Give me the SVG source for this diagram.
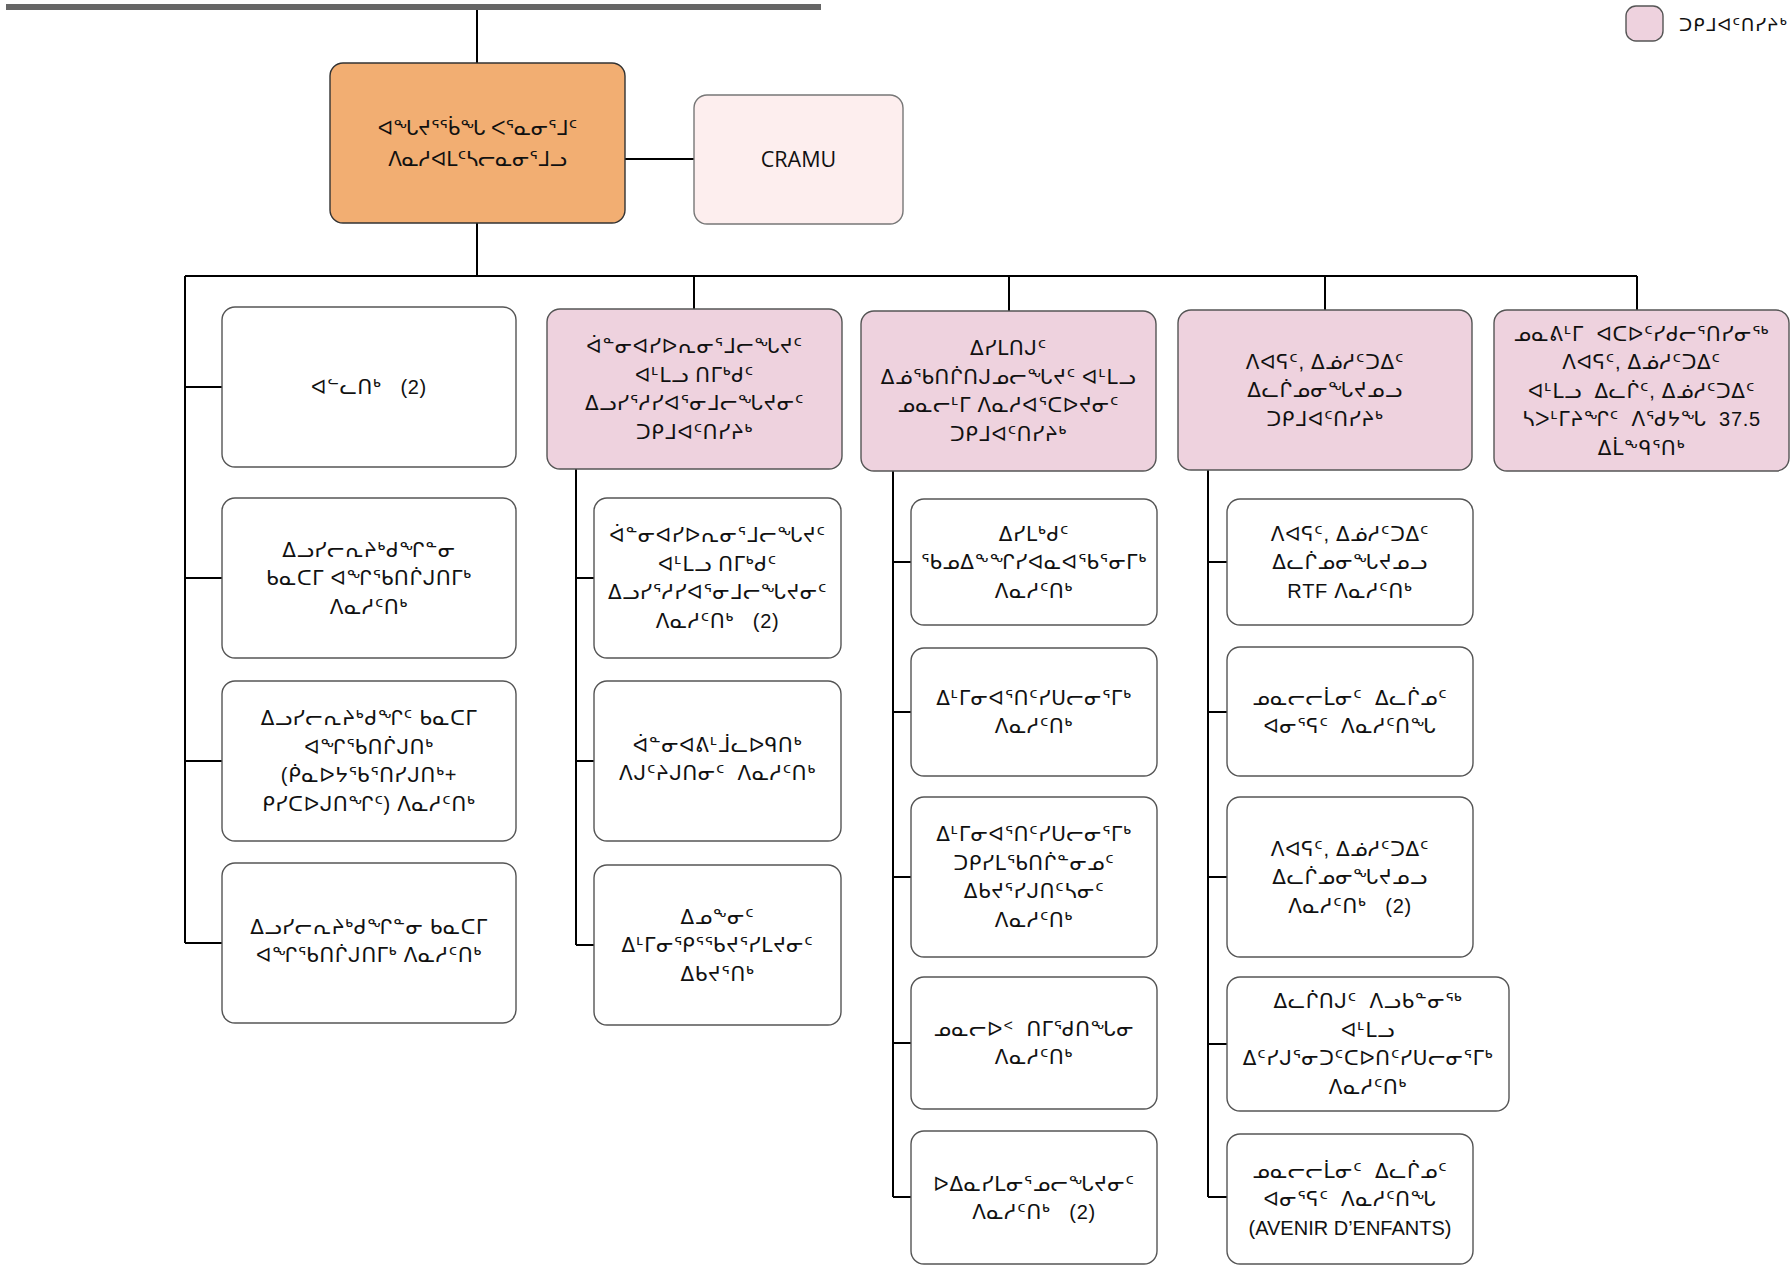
<svg xmlns="http://www.w3.org/2000/svg" width="1791" height="1266" viewBox="0 0 1791 1266">
<style>
.b{stroke:#555;stroke-width:1.4}
.w{fill:#fff}
.p{fill:#EED2DE}
.root{fill:#F2AE72;stroke:#333;stroke-width:1.4}
.cr{fill:#FDEEEE;stroke:#777;stroke-width:1.4}
.t{font-family:"Liberation Sans","DejaVu Sans",sans-serif;font-size:20px;fill:#111;text-anchor:middle;letter-spacing:0.7px}
.n{letter-spacing:0}
.lat{font-family:"Open Sans","Liberation Sans",sans-serif;font-size:21.5px;fill:#111;text-anchor:middle}
.c{stroke:#000;stroke-width:2;fill:none}
</style>
<rect x="0" y="0" width="1791" height="1266" fill="#fff"/>
<g id="connectors">
<rect x="6" y="4" width="815" height="6" fill="#666"/>
<path class="c" d="M477,10V63 M625,159H694 M477,223V276 M185,276H1637 M694,276V309 M1009,276V311 M1325,276V310 M1637,276V310"/>
<path class="c" d="M185,276V943 M185,387H222 M185,578H222 M185,761H222 M185,943H222"/>
<path class="c" d="M576,469V945 M576,578H594 M576,761H594 M576,945H594"/>
<path class="c" d="M893,471V1197 M893,562H911 M893,712H911 M893,877H911 M893,1043H911 M893,1197H911"/>
<path class="c" d="M1208,470V1197 M1208,562H1227 M1208,712H1227 M1208,877H1227 M1208,1044H1227 M1208,1197H1227"/>
</g>
<g id="legend">
<rect x="1626" y="6" width="37" height="35" rx="10" class="b p"/>
<text x="1679" y="31" style="font-family:'Liberation Sans','DejaVu Sans',sans-serif;font-size:18px;fill:#111;letter-spacing:1px">ᑐᑭᒧᐊᑦᑎᓯᔨᒃ</text>
</g>
<g id="root">
<rect x="330" y="63" width="295" height="160" rx="13" class="root"/>
<text class="t" style="letter-spacing:0"><tspan x="477.5" y="134.5">ᐊᖓᔪᕐᖄᖓ ᐸᕐᓇᓂᕐᒧᑦ</tspan><tspan x="477.5" y="165.5">ᐱᓇᓱᐊᒪᑦᓴᓕᓇᓂᕐᒧᓗ</tspan></text>
</g>
<g id="cramu">
<rect x="694" y="95" width="209" height="129" rx="13" class="cr"/>
<text class="lat" x="798.5" y="167">CRAMU</text>
</g>
<g id="c1r1">
<rect x="222" y="307" width="294" height="160" rx="13" class="b w"/>
<text class="t" x="369" y="394">ᐊᓪᓚᑎᒃ&#160;&#160; (2)</text>
</g>
<g id="c1r2">
<rect x="222" y="498" width="294" height="160" rx="13" class="b w"/>
<text class="t"><tspan x="369" y="556.5">ᐃᓗᓯᓕᕆᔨᒃᑯᖏᓐᓂ</tspan><tspan x="369" y="585">ᑲᓇᑕᒥ ᐊᖏᖃᑎᒌᒍᑎᒥᒃ</tspan><tspan x="369" y="613.5">ᐱᓇᓱᑦᑎᒃ</tspan></text>
</g>
<g id="c1r3">
<rect x="222" y="681" width="294" height="160" rx="13" class="b w"/>
<text class="t"><tspan x="369" y="725">ᐃᓗᓯᓕᕆᔨᒃᑯᖏᑦ ᑲᓇᑕᒥ</tspan><tspan x="369" y="754">ᐊᖏᖃᑎᒌᒍᑎᒃ</tspan><tspan x="369" y="782">(ᑮᓇᐅᔭᖃᕐᑎᓯᒍᑎᒃ+</tspan><tspan x="369" y="811">ᑭᓯᑕᐅᒍᑎᖏᑦ) ᐱᓇᓱᑦᑎᒃ</tspan></text>
</g>
<g id="c1r4">
<rect x="222" y="863" width="294" height="160" rx="13" class="b w"/>
<text class="t"><tspan x="369" y="934">ᐃᓗᓯᓕᕆᔨᒃᑯᖏᓐᓂ ᑲᓇᑕᒥ</tspan><tspan x="369" y="962">ᐊᖏᖃᑎᒌᒍᑎᒥᒃ ᐱᓇᓱᑦᑎᒃ</tspan></text>
</g>
<g id="c2h">
<rect x="547" y="309" width="295" height="160" rx="13" class="b p"/>
<text class="t"><tspan x="694.5" y="353">ᐋᓐᓂᐊᓯᐅᕆᓂᕐᒧᓕᖓᔪᑦ</tspan><tspan x="694.5" y="382">ᐊᒻᒪᓗ ᑎᒥᒃᑯᑦ</tspan><tspan x="694.5" y="410">ᐃᓗᓯᕐᓱᓯᐊᕐᓂᒧᓕᖓᔪᓂᑦ</tspan><tspan x="694.5" y="439">ᑐᑭᒧᐊᑦᑎᓯᔨᒃ</tspan></text>
</g>
<g id="c2k1">
<rect x="594" y="498" width="247" height="160" rx="13" class="b w"/>
<text class="t"><tspan x="717.5" y="542">ᐋᓐᓂᐊᓯᐅᕆᓂᕐᒧᓕᖓᔪᑦ</tspan><tspan x="717.5" y="571">ᐊᒻᒪᓗ ᑎᒥᒃᑯᑦ</tspan><tspan x="717.5" y="599">ᐃᓗᓯᕐᓱᓯᐊᕐᓂᒧᓕᖓᔪᓂᑦ</tspan><tspan x="717.5" y="628">ᐱᓇᓱᑦᑎᒃ&#160;&#160; (2)</tspan></text>
</g>
<g id="c2k2">
<rect x="594" y="681" width="247" height="160" rx="13" class="b w"/>
<text class="t"><tspan x="717.5" y="752">ᐋᓐᓂᐊᕕᒻᒨᓚᐅᑫᑎᒃ</tspan><tspan x="717.5" y="780">ᐱᒍᑦᔨᒍᑎᓂᑦ&#160; ᐱᓇᓱᑦᑎᒃ</tspan></text>
</g>
<g id="c2k3">
<rect x="594" y="865" width="247" height="160" rx="13" class="b w"/>
<text class="t"><tspan x="717.5" y="923.5">ᐃᓄᖕᓂᑦ</tspan><tspan x="717.5" y="952">ᐃᒻᒥᓂᕿᕐᖃᔪᕐᓯᒪᔪᓂᑦ</tspan><tspan x="717.5" y="980.5">ᐃᑲᔪᕐᑎᒃ</tspan></text>
</g>
<g id="c3h">
<rect x="861" y="311" width="295" height="160" rx="13" class="b p"/>
<text class="t"><tspan x="1008.5" y="355">ᐃᓯᒪᑎᒍᑦ</tspan><tspan x="1008.5" y="384">ᐃᓅᖃᑎᒌᑎᒍᓄᓕᖓᔪᑦ ᐊᒻᒪᓗ</tspan><tspan x="1008.5" y="412">ᓄᓇᓕᒻᒥ ᐱᓇᓱᐊᕐᑕᐅᔪᓂᑦ</tspan><tspan x="1008.5" y="441">ᑐᑭᒧᐊᑦᑎᓯᔨᒃ</tspan></text>
</g>
<g id="c3k1">
<rect x="911" y="499" width="246" height="126" rx="13" class="b w"/>
<text class="t"><tspan x="1034" y="540.5">ᐃᓯᒪᒃᑯᑦ</tspan><tspan x="1034" y="569">ᖃᓄᐃᖕᖏᓯᐊᓇᐊᖃᕐᓂᒥᒃ</tspan><tspan x="1034" y="597.5">ᐱᓇᓱᑦᑎᒃ</tspan></text>
</g>
<g id="c3k2">
<rect x="911" y="648" width="246" height="128" rx="13" class="b w"/>
<text class="t"><tspan x="1034" y="705">ᐃᒻᒥᓂᐊᕐᑎᑦᓯᑌᓕᓂᕐᒥᒃ</tspan><tspan x="1034" y="733">ᐱᓇᓱᑦᑎᒃ</tspan></text>
</g>
<g id="c3k3">
<rect x="911" y="797" width="246" height="160" rx="13" class="b w"/>
<text class="t"><tspan x="1034" y="841">ᐃᒻᒥᓂᐊᕐᑎᑦᓯᑌᓕᓂᕐᒥᒃ</tspan><tspan x="1034" y="870">ᑐᑭᓯᒪᖃᑎᒌᓐᓂᓄᑦ</tspan><tspan x="1034" y="898">ᐃᑲᔪᕐᓯᒍᑎᑦᓴᓂᑦ</tspan><tspan x="1034" y="927">ᐱᓇᓱᑦᑎᒃ</tspan></text>
</g>
<g id="c3k4">
<rect x="911" y="977" width="246" height="132" rx="13" class="b w"/>
<text class="t"><tspan x="1034" y="1036">ᓄᓇᓕᐅᑉ&#160; ᑎᒥᖁᑎᖓᓂ</tspan><tspan x="1034" y="1064">ᐱᓇᓱᑦᑎᒃ</tspan></text>
</g>
<g id="c3k5">
<rect x="911" y="1131" width="246" height="133" rx="13" class="b w"/>
<text class="t"><tspan x="1034" y="1190.5">ᐅᐃᓇᓯᒪᓂᕐᓄᓕᖓᔪᓂᑦ</tspan><tspan x="1034" y="1219">ᐱᓇᓱᑦᑎᒃ&#160;&#160; (2)</tspan></text>
</g>
<g id="c4h">
<rect x="1178" y="310" width="294" height="160" rx="13" class="b p"/>
<text class="t"><tspan x="1325" y="368.5">ᐱᐊᕋᑦ, ᐃᓅᓱᑦᑐᐃᑦ</tspan><tspan x="1325" y="397">ᐃᓚᒌᓄᓂᖓᔪᓄᓗ</tspan><tspan x="1325" y="425.5">ᑐᑭᒧᐊᑦᑎᓯᔨᒃ</tspan></text>
</g>
<g id="c4k1">
<rect x="1227" y="499" width="246" height="126" rx="13" class="b w"/>
<text class="t"><tspan x="1350" y="540.5">ᐱᐊᕋᑦ, ᐃᓅᓱᑦᑐᐃᑦ</tspan><tspan x="1350" y="569">ᐃᓚᒌᓄᓂᖓᔪᓄᓗ</tspan><tspan x="1350" y="597.5">RTF ᐱᓇᓱᑦᑎᒃ</tspan></text>
</g>
<g id="c4k2">
<rect x="1227" y="647" width="246" height="129" rx="13" class="b w"/>
<text class="t"><tspan x="1350" y="704.5">ᓄᓇᓕᓕᒫᓂᑦ&#160; ᐃᓚᒌᓄᑦ</tspan><tspan x="1350" y="733">ᐊᓂᕐᕋᑦ&#160; ᐱᓇᓱᑦᑎᖓ</tspan></text>
</g>
<g id="c4k3">
<rect x="1227" y="797" width="246" height="160" rx="13" class="b w"/>
<text class="t"><tspan x="1350" y="855.5">ᐱᐊᕋᑦ, ᐃᓅᓱᑦᑐᐃᑦ</tspan><tspan x="1350" y="884">ᐃᓚᒌᓄᓂᖓᔪᓄᓗ</tspan><tspan x="1350" y="912.5">ᐱᓇᓱᑦᑎᒃ&#160;&#160; (2)</tspan></text>
</g>
<g id="c4k4">
<rect x="1227" y="977" width="282" height="134" rx="13" class="b w"/>
<text class="t"><tspan x="1368" y="1008">ᐃᓚᒌᑎᒍᑦ&#160; ᐱᓗᑲᓐᓂᖅ</tspan><tspan x="1368" y="1037">ᐊᒻᒪᓗ</tspan><tspan x="1368" y="1065">ᐃᑦᓯᒍᕐᓂᑐᑦᑕᐅᑎᑦᓯᑌᓕᓂᕐᒥᒃ</tspan><tspan x="1368" y="1094">ᐱᓇᓱᑦᑎᒃ</tspan></text>
</g>
<g id="c4k5">
<rect x="1227" y="1134" width="246" height="130" rx="13" class="b w"/>
<text class="t"><tspan x="1350" y="1178">ᓄᓇᓕᓕᒫᓂᑦ&#160; ᐃᓚᒌᓄᑦ</tspan><tspan x="1350" y="1206">ᐊᓂᕐᕋᑦ&#160; ᐱᓇᓱᑦᑎᖓ</tspan><tspan class="n" x="1350" y="1235">(AVENIR D’ENFANTS)</tspan></text>
</g>
<g id="c5h">
<rect x="1494" y="310" width="295" height="161" rx="13" class="b p"/>
<text class="t"><tspan x="1641.5" y="340.5">ᓄᓇᕕᒻᒥ&#160; ᐊᑕᐅᑦᓯᑯᓕᕐᑎᓯᓂᖅ</tspan><tspan x="1641.5" y="369">ᐱᐊᕋᑦ, ᐃᓅᓱᑦᑐᐃᑦ</tspan><tspan x="1641.5" y="397.5">ᐊᒻᒪᓗ&#160; ᐃᓚᒌᑦ, ᐃᓅᓱᑦᑐᐃᑦ</tspan><tspan x="1641.5" y="426">ᓴᐳᒻᒥᔨᖏᑦ&#160; ᐱᖁᔭᖓ&#160; 37.5</tspan><tspan x="1641.5" y="454.5">ᐃᒫᖕᑫᕐᑎᒃ</tspan></text>
</g>
</svg>
